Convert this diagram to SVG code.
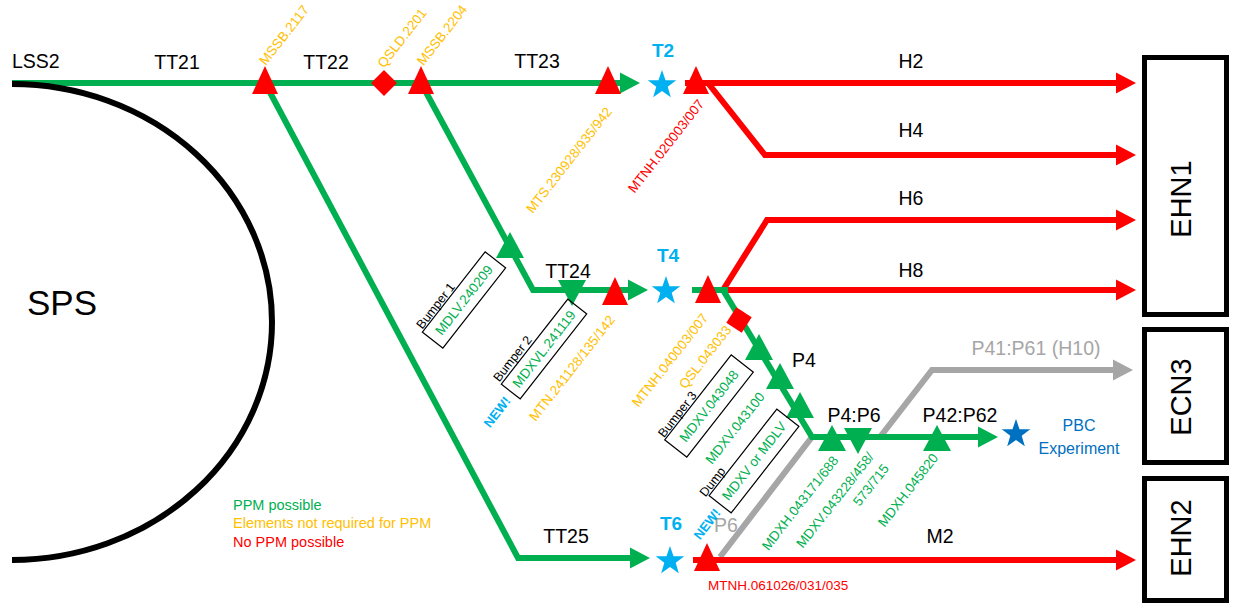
<svg xmlns="http://www.w3.org/2000/svg" xmlns:xlink="http://www.w3.org/1999/xlink" width="1237" height="605" viewBox="0 0 1237 605">
<style>
text{font-family:"Liberation Sans",Arial,sans-serif}
.lbl{font-size:19.5px;fill:#000;text-anchor:middle}
.tgt{font-size:19px;font-weight:bold;fill:#00B0F0;text-anchor:middle}
.el{font-size:13.5px;text-anchor:middle}
.bm{font-size:12.5px;fill:#000;text-anchor:middle}
.nw{font-size:13px;font-weight:bold;fill:#00B0F0;text-anchor:middle}
.g{fill:#00B050}.o{fill:#FFC000}.r{fill:#FF0000}.gy{fill:#A6A6A6}.db{fill:#0070C0}
.ln{fill:none;stroke-width:6;stroke-linejoin:miter}
.lg{stroke:#00B050}.lr{stroke:#FF0000}.lk{stroke:#A6A6A6}
.box{fill:none;stroke:#000;stroke-width:1.2}
.hall{fill:#fff;stroke:#000;stroke-width:5}
.hallt{font-size:29px;fill:#000;text-anchor:middle}
.leg{font-size:14.5px}
</style>
<defs>
<marker id="aG" markerUnits="userSpaceOnUse" markerWidth="21" markerHeight="22" refX="1" refY="11" orient="auto"><path d="M0,0.5 L20,11 L0,21.5 Z" fill="#00B050"/></marker>
<marker id="aR" markerUnits="userSpaceOnUse" markerWidth="21" markerHeight="22" refX="1" refY="11" orient="auto"><path d="M0,0.5 L20,11 L0,21.5 Z" fill="#FF0000"/></marker>
<marker id="aK" markerUnits="userSpaceOnUse" markerWidth="21" markerHeight="22" refX="1" refY="11" orient="auto"><path d="M0,0.5 L20,11 L0,21.5 Z" fill="#A6A6A6"/></marker>
<path id="triR" d="M0,-17 L13,11 L-13,11 Z" fill="#FF0000"/>
<path id="triGu" d="M0,-13 L14,13 L-14,13 Z" fill="#00B050"/>
<path id="triGd" d="M-14,-11 L14,-11 L0,15 Z" fill="#00B050"/>
<path id="dia" d="M0,-13 L13,0 L0,13 L-13,0 Z" fill="#FF0000"/>
<path id="star" d="M0,-15 L3.53,-4.85 L14.27,-4.64 L5.71,1.85 L8.82,12.14 L0,6 L-8.82,12.14 L-5.71,1.85 L-14.27,-4.64 L-3.53,-4.85 Z"/>
</defs>
<rect width="1237" height="605" fill="#fff"/>

<g id="connectors">
<path class="ln lk" d="M720,557 L812,437 H880 L932,370 H1114" marker-end="url(#aK)"/>
<path class="ln lg" d="M12,83 H621" marker-end="url(#aG)"/>
<path class="ln lg" d="M421,83 L533,290 H629" marker-end="url(#aG)"/>
<path class="ln lg" d="M265,83 L518,558 H631" marker-end="url(#aG)"/>
<path class="ln lr" d="M685,83 H1117" marker-end="url(#aR)"/>
<path class="ln lr" d="M708,83 L765,155 H1117" marker-end="url(#aR)"/>
<path class="ln lr" d="M723,290 L767,220 H1117" marker-end="url(#aR)"/>
<path class="ln lr" d="M726,290 H1117" marker-end="url(#aR)"/>
<path class="ln lg" d="M692,290 H728"/>
<path class="ln lg" d="M723,290 L812,437 H979" marker-end="url(#aG)"/>
<path class="ln lr" d="M693,560 H1117" marker-end="url(#aR)"/>
</g>

<g id="SPS">
<path d="M12,84 A260,238 0 0 1 12,560" fill="none" stroke="#000" stroke-width="6"/>
<text x="62" y="315" style="font-size:35px;text-anchor:middle">SPS</text>
</g>

<g id="line-labels">
<text x="12" y="68" style="font-size:19.5px">LSS2</text>
<text class="lbl" x="177" y="69">TT21</text>
<text class="lbl" x="326" y="69">TT22</text>
<text class="lbl" x="537" y="68">TT23</text>
<text class="lbl" x="568" y="278">TT24</text>
<text class="lbl" x="566" y="543">TT25</text>
<text class="lbl" x="911" y="68">H2</text>
<text class="lbl" x="911" y="137">H4</text>
<text class="lbl" x="911" y="205">H6</text>
<text class="lbl" x="911" y="277">H8</text>
<text class="lbl" x="940" y="543">M2</text>
<text class="lbl" x="804" y="367">P4</text>
<text class="lbl" x="854" y="422">P4:P6</text>
<text class="lbl" x="960" y="422">P42:P62</text>
<text class="lbl gy" x="1036" y="355">P41:P61 (H10)</text>
<text class="lbl gy" x="726" y="532">P6</text>
</g>

<g id="MSSB2117"><use href="#triR" x="265" y="83"/><text class="el o" transform="translate(284,35) rotate(-52)" dy="0.35em">MSSB.2117</text></g>
<g id="QSLD2201"><use href="#dia" x="384" y="83"/><text class="el o" transform="translate(402,38) rotate(-52)" dy="0.35em">QSLD.2201</text></g>
<g id="MSSB2204"><use href="#triR" x="421" y="83"/><text class="el o" transform="translate(442,35) rotate(-52)" dy="0.35em">MSSB.2204</text></g>
<g id="MTS230928"><use href="#triR" x="608" y="83"/><text class="el o" transform="translate(569,160) rotate(-52)" dy="0.35em">MTS.230928/935/942</text></g>
<g id="T2"><use href="#star" x="662" y="85" fill="#00B0F0"/><text class="tgt" x="663" y="57">T2</text></g>
<g id="MTNH020003"><use href="#triR" x="696" y="83"/><text class="el r" transform="translate(666,146) rotate(-52)" dy="0.35em">MTNH.020003/007</text></g>

<g id="Bumper1">
<use href="#triGu" x="510" y="245"/>
<g transform="translate(464,300) rotate(-52)">
<rect class="box" x="-51" y="-13" width="102" height="26"/>
<text class="el g" dy="0.35em">MDLV.240209</text>
<text class="bm" x="-22" y="-19" dy="0.35em">Bumper 1</text>
</g>
</g>
<g id="Bumper2">
<use href="#triGd" x="572" y="291"/>
<g transform="translate(544,349) rotate(-52)">
<rect class="box" x="-54" y="-12" width="108" height="24"/>
<text class="el g" dy="0.35em">MDXVL.241119</text>
<text class="bm" x="-27" y="-19" dy="0.35em">Bumper 2</text>
</g>
<text class="nw" transform="translate(497,412) rotate(-52)" dy="0.35em">NEW!</text>
</g>
<g id="MTN241128"><use href="#triR" x="615" y="294"/><text class="el o" transform="translate(572,368) rotate(-52)" dy="0.35em">MTN.241128/135/142</text></g>
<g id="T4"><use href="#star" x="666" y="291" fill="#00B0F0"/><text class="tgt" x="668" y="262">T4</text></g>
<g id="MTNH040003"><use href="#triR" x="708" y="292"/><text class="el o" transform="translate(670,360) rotate(-52)" dy="0.35em">MTNH.040003/007</text></g>
<g id="QSL043033"><use href="#dia" transform="translate(739,320) rotate(-12)"/><text class="el o" transform="translate(705,357) rotate(-52)" dy="0.35em">QSL.043033</text></g>

<g id="Bumper3">
<use href="#triGu" x="759" y="347"/>
<g transform="translate(709,406) rotate(-52)">
<rect class="box" x="-54" y="-14" width="108" height="28"/>
<text class="el g" dy="0.35em">MDXV.043048</text>
<text class="bm" x="-26" y="-20" dy="0.35em">Bumper 3</text>
</g>
</g>
<g id="MDXV043100"><use href="#triGu" x="780" y="376"/><text class="el g" transform="translate(735,428) rotate(-52)" dy="0.35em">MDXV.043100</text></g>
<g id="Dump">
<use href="#triGu" x="800" y="405"/>
<g transform="translate(754,461) rotate(-52)">
<rect class="box" x="-55" y="-14" width="110" height="28"/>
<text class="el g" dy="0.35em">MDXV or MDLV</text>
<text class="bm" x="-42" y="-20" dy="0.35em">Dump</text>
</g>
<text class="nw" transform="translate(707,524) rotate(-52)" dy="0.35em">NEW!</text>
</g>
<g id="MDXH043171"><use href="#triGu" x="832" y="438"/><text class="el g" transform="translate(800,503) rotate(-52)" dy="0.35em">MDXH.043171/688</text></g>
<g id="MDXV043228"><use href="#triGd" x="858" y="439"/>
<g transform="translate(835,500) rotate(-52)"><text class="el g" dy="0.35em">MDXV.043228/458/</text><text class="el g" x="34" y="19" dy="0.35em">573/715</text></g>
</g>
<g id="MDXH045820"><use href="#triGu" x="937" y="438"/><text class="el g" transform="translate(908,490) rotate(-52)" dy="0.35em">MDXH.045820</text></g>
<g id="PBC"><use href="#star" x="1016" y="434" fill="#0070C0"/><text class="db" x="1079" y="431" style="font-size:16px;text-anchor:middle">PBC</text><text class="db" x="1079" y="454" style="font-size:16px;text-anchor:middle">Experiment</text></g>
<g id="T6"><use href="#star" x="670" y="561" fill="#00B0F0"/><text class="tgt" x="671" y="530">T6</text></g>
<g id="MTNH061026"><use href="#triR" x="707" y="560"/><text class="r" x="708" y="590" style="font-size:13.5px">MTNH.061026/031/035</text></g>

<g id="EHN1"><rect class="hall" x="1144.5" y="57.5" width="82" height="257"/><text class="hallt" transform="translate(1181,199) rotate(-90)" dy="0.35em">EHN1</text></g>
<g id="ECN3"><rect class="hall" x="1144.5" y="329.5" width="82" height="133"/><text class="hallt" transform="translate(1181,397) rotate(-90)" dy="0.35em">ECN3</text></g>
<g id="EHN2"><rect class="hall" x="1144.5" y="478.5" width="82" height="122"/><text class="hallt" transform="translate(1181,538) rotate(-90)" dy="0.35em">EHN2</text></g>

<g id="legend">
<text class="leg g" x="233" y="510">PPM possible</text>
<text class="leg o" x="233" y="528">Elements not required for PPM</text>
<text class="leg r" x="233" y="547">No PPM possible</text>
</g>
</svg>
